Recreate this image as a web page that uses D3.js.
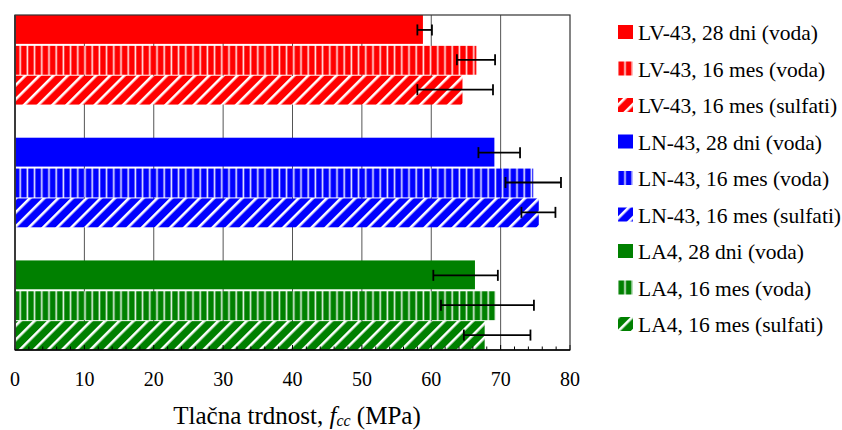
<!DOCTYPE html>
<html><head><meta charset="utf-8">
<script src="https://cdn.jsdelivr.net/npm/d3@7"></script>
<style>body{margin:0;background:#fff}svg{display:block}</style>
</head><body>
<script>
const groups = ["LV-43", "LN-43", "LA4"];
const conditions = ["28 dni (voda)", "16 mes (voda)", "16 mes (sulfati)"];
const colors = ["#ff0000", "#0000ff", "#008000"];
const valuesLV43 = [58.8, 66.5, 64.5];
const valuesLN43 = [69.1, 74.7, 75.5];
const valuesLA4 = [66.3, 69.3, 67.7];
const errLowLV43 = [58.0, 63.7, 58.0];
const errHighLV43 = [60.1, 69.2, 68.9];
const errLowLN43 = [66.8, 70.7, 73.0];
const errHighLN43 = [72.8, 78.7, 77.9];
const errLowLA4 = [60.3, 61.4, 64.7];
const errHighLA4 = [69.6, 74.8, 74.3];
const xTicks = [0, 10, 20, 30, 40, 50, 60, 70, 80];

(function () {
const FONT = "Liberation Serif";
const values = [valuesLV43, valuesLN43, valuesLA4];
const errLow = [errLowLV43, errLowLN43, errLowLA4];
const errHigh = [errHighLV43, errHighLN43, errHighLA4];

const W = 842, H = 430;
const svg = d3.select("body").append("svg").attr("width", W).attr("height", H);
const defs = svg.append("defs");

colors.forEach((c, i) => {
  const pv = defs.append("pattern").attr("id", "vert" + i)
    .attr("patternUnits", "userSpaceOnUse").attr("width", 7.2).attr("height", 10);
  pv.append("rect").attr("width", 7.2).attr("height", 10).attr("fill", c);
  pv.append("rect").attr("x", 5).attr("width", 1.6).attr("height", 10).attr("fill", "#fff").attr("opacity", 0.9);
  const pd = defs.append("pattern").attr("id", "diag" + i)
    .attr("patternUnits", "userSpaceOnUse").attr("width", 10).attr("height", 10)
    .attr("patternTransform", "rotate(45)");
  pd.append("rect").attr("width", 10).attr("height", 10).attr("fill", c);
  pd.append("rect").attr("x", 0).attr("width", 2.6).attr("height", 10).attr("fill", "#fff");
});
const fillFor = (g, k) => k === 0 ? colors[g] : (k === 1 ? `url(#vert${g})` : `url(#diag${g})`);

const pLeft = 15, pRight = 570, pTop = 15, pBottom = 350;
const x = d3.scaleLinear().domain([0, 80]).range([pLeft, pRight]);
const y = d3.scaleBand().domain(groups).range([pTop, pBottom]).paddingInner(0.27).paddingOuter(0);
const ySub = d3.scaleBand().domain(conditions).range([0, y.bandwidth()]);

// grid
svg.append("g").selectAll("line").data(xTicks.slice(1, -1)).join("line")
  .attr("x1", d => x(d)).attr("x2", d => x(d)).attr("y1", pTop).attr("y2", pBottom)
  .attr("stroke", "#555").attr("stroke-width", 1);

// bars
const rows = [];
groups.forEach((g, gi) => conditions.forEach((c, ci) => rows.push({g, gi, c, ci, v: values[gi][ci], lo: errLow[gi][ci], hi: errHigh[gi][ci]})));
svg.append("g").selectAll("rect").data(rows).join("rect")
  .attr("x", x(0)).attr("width", d => x(d.v) - x(0))
  .attr("y", d => y(d.g) + ySub(d.c) + (d.ci === 0 ? 0 : 1))
  .attr("height", d => ySub.bandwidth() - 1)
  .attr("fill", d => fillFor(d.gi, d.ci));

// error bars
const eb = svg.append("g").attr("stroke", "#000").attr("stroke-width", 1.8);
rows.forEach(d => {
  const cy = y(d.g) + ySub(d.c) + ySub.bandwidth() / 2;
  eb.append("line").attr("x1", x(d.lo)).attr("x2", x(d.hi)).attr("y1", cy).attr("y2", cy);
  eb.append("line").attr("x1", x(d.lo)).attr("x2", x(d.lo)).attr("y1", cy - 5.5).attr("y2", cy + 5.5);
  eb.append("line").attr("x1", x(d.hi)).attr("x2", x(d.hi)).attr("y1", cy - 5.5).attr("y2", cy + 5.5);
});

// minor ticks (inward)
svg.append("g").selectAll("line").data(d3.range(0, 81, 2)).join("line")
  .attr("x1", d => x(d)).attr("x2", d => x(d)).attr("y1", pBottom).attr("y2", d => d % 10 === 0 ? pBottom - 5 : pBottom - 3.5)
  .attr("stroke", "#000").attr("stroke-width", 1);

// frame
svg.append("rect").attr("x", pLeft).attr("y", pTop).attr("width", pRight - pLeft).attr("height", pBottom - pTop)
  .attr("fill", "none").attr("stroke", "#333").attr("stroke-width", 1.2);
svg.append("line").attr("x1", pLeft).attr("x2", pLeft).attr("y1", pTop).attr("y2", pBottom).attr("stroke", "#333").attr("stroke-width", 1.8);
svg.append("line").attr("x1", pLeft).attr("x2", pRight).attr("y1", pBottom).attr("y2", pBottom).attr("stroke", "#000").attr("stroke-width", 1.6);

// tick labels
svg.append("g").selectAll("text").data(xTicks).join("text")
  .attr("x", d => x(d)).attr("y", 386).attr("text-anchor", "middle")
  .attr("font-family", FONT).attr("font-size", 20).attr("fill", "#000").text(d => d);

// axis title
const t = svg.append("text").attr("x", 297).attr("y", 424).attr("text-anchor", "middle")
  .attr("font-family", FONT).attr("font-size", 25).attr("fill", "#000");
t.append("tspan").text("Tlačna trdnost, ");
t.append("tspan").attr("font-style", "italic").text("f");
t.append("tspan").attr("font-style", "italic").attr("font-size", 16).attr("dy", 2).text("cc");
t.append("tspan").attr("dy", -2).text(" (MPa)");

// legend
const legend = svg.append("g");
rows.forEach((d, i) => {
  const cy = 32 + i * 36.5;
  legend.append("rect").attr("x", 618).attr("y", cy - 7).attr("width", 15).attr("height", 14).attr("fill", fillFor(d.gi, d.ci));
  legend.append("text").attr("x", 638).attr("y", cy + 8).attr("font-family", FONT)
    .attr("font-size", 21.5).attr("fill", "#000").text(`${d.g}, ${d.c}`);
});
})();
</script>
</body></html>
